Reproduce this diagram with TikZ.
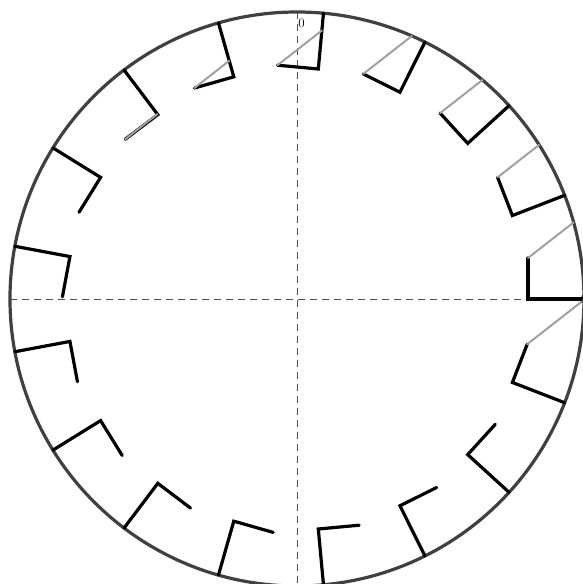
\documentclass[tikz,border=0pt]{standalone}
\usetikzlibrary{calc}
\definecolor{rimcol}{HTML}{404040}
\definecolor{raycol}{HTML}{A0A0A0}
\definecolor{axcol}{HTML}{505050}
\tikzset{
  rim/.style={draw=rimcol, line width=3.2pt},
  axisline/.style={draw=axcol, line width=0.9pt, dash pattern=on 7pt off 5pt},
  hookline/.style={draw=black, line width=3.2pt, line cap=round, line join=miter},
  rayline/.style={draw=raycol, line width=2pt, line cap=round},
  zerolabel/.style={font=\fontsize{13}{15}\selectfont, inner sep=0pt}
}
\begin{document}
\begin{tikzpicture}[x=1pt,y=1pt]
\useasboundingbox (-297,-285) rectangle (286,299);
\coordinate (O) at (0,0);
\coordinate (W) at (-287,0);
\coordinate (E) at (287,0);
\coordinate (N) at (0,287);
\coordinate (S) at (0,-287);
\draw[axisline] (W) -- (E);
\draw[axisline] (N) -- (S);
\draw[rim] (O) circle (287);
\foreach \k in {0,...,16} {
  \pgfmathsetmacro\myang{\k*360/17}
  \coordinate (A\k) at (\myang:287);
  \coordinate (B\k) at (\myang:231);
  \coordinate (C\k) at ($(B\k)+(\myang+90:41)$);
  \draw[hookline] (A\k) -- (B\k) -- (C\k);
}
\def\myphi{38}
\foreach \k in {0,1,2,3,16} {
  \pgfmathsetmacro\myang{\k*360/17}
  \pgfmathsetmacro\mycu{2.31*cos(\myang-\myphi)+0.41*sin(\myphi-\myang)}
  \pgfmathsetmacro\mylen{100*(-\mycu+sqrt(\mycu*\mycu+2.7327))}
  \coordinate (G\k) at ($(C\k)+(\myphi:\mylen)$);
  \draw[rayline] (C\k) -- (G\k);
}
\foreach \k in {4,5,6} {
  \pgfmathsetmacro\myang{\k*360/17}
  \pgfmathsetmacro\myrad{231+41*cos(\myang-\myphi)/sin(\myang-\myphi)}
  \coordinate (G\k) at (\myang:\myrad);
  \draw[rayline] (C\k) -- (G\k);
}
\node[zerolabel] (zt) at (4.5,275.5) {0};
\node[zerolabel] (zr) at (287,0) {0};
\end{tikzpicture}
\end{document}
